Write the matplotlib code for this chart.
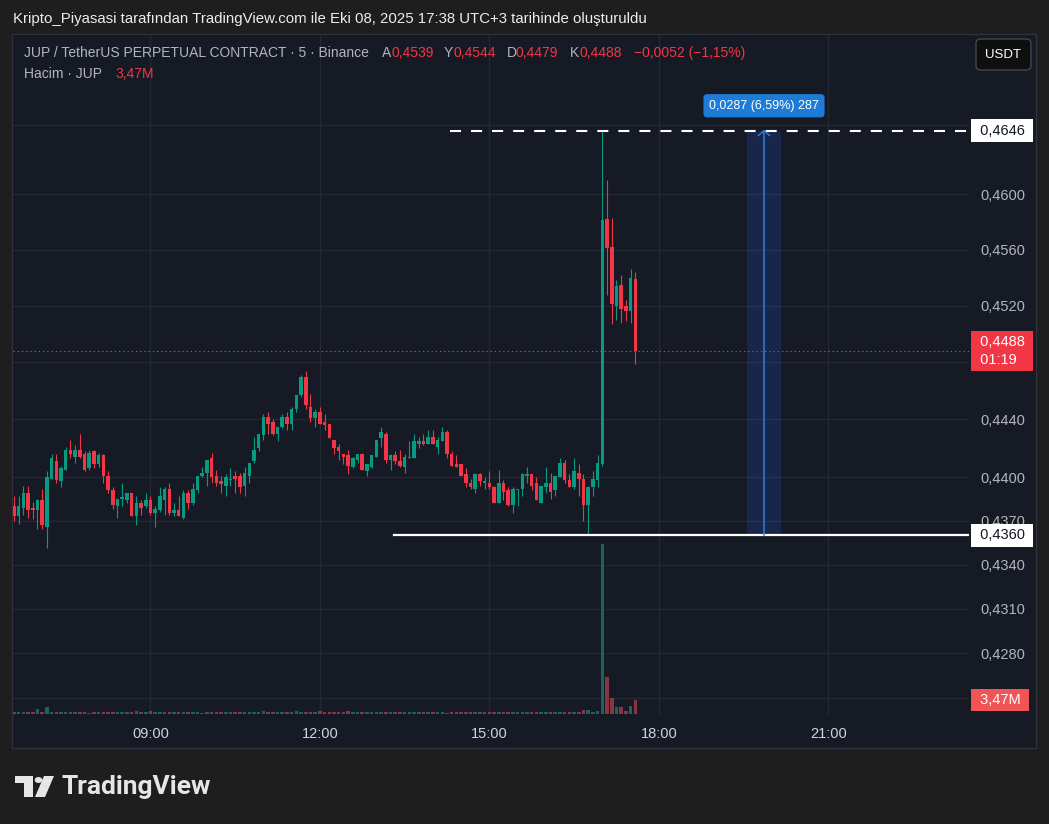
import matplotlib
matplotlib.use('Agg')
import matplotlib.pyplot as plt
import matplotlib.transforms as mtransforms
from matplotlib.patches import Rectangle, FancyBboxPatch, Polygon, Circle
from matplotlib.ticker import NullLocator

# ---- data (5 min candles, JUP/USDT perp) ----
start_time = '06:35'
bar_minutes = 5

opens = [0.4380, 0.4373, 0.4379, 0.4389, 0.4379, 0.4377, 0.4384, 0.4366, 0.4399, 0.4411,
         0.4397, 0.4405, 0.4419, 0.4414, 0.4419, 0.4416, 0.4406, 0.4418, 0.4409, 0.4415,
         0.4401, 0.4391, 0.4380, 0.4385, 0.4384, 0.4389, 0.4373, 0.4382, 0.4380, 0.4384,
         0.4375, 0.4377, 0.4384, 0.4392, 0.4375, 0.4377, 0.4372, 0.4389, 0.4382, 0.4391,
         0.4401, 0.4403, 0.4413, 0.4401, 0.4397, 0.4394, 0.4398, 0.4401, 0.4401, 0.4394,
         0.4401, 0.4411, 0.4420, 0.4429, 0.4442, 0.4438, 0.4430, 0.4435, 0.4442, 0.4437,
         0.4447, 0.4457, 0.4470, 0.4449, 0.4441, 0.4445, 0.4438, 0.4437, 0.4426, 0.4421,
         0.4416, 0.4415, 0.4407, 0.4412, 0.4416, 0.4404, 0.4407, 0.4414, 0.4427, 0.4430,
         0.4412, 0.4415, 0.4411, 0.4407, 0.4413, 0.4413, 0.4423, 0.4425, 0.4423, 0.4428,
         0.4421, 0.4425, 0.4431, 0.4416, 0.4409, 0.4409, 0.4402, 0.4396, 0.4392, 0.4402,
         0.4396, 0.4396, 0.4393, 0.4382, 0.4396, 0.4391, 0.4381, 0.4391, 0.4392, 0.4401,
         0.4402, 0.4396, 0.4382, 0.4393, 0.4396, 0.4391, 0.4400, 0.4410, 0.4398, 0.4393,
         0.4403, 0.4399, 0.4381, 0.4393, 0.4398, 0.4409, 0.4582, 0.4562, 0.4520, 0.4535,
         0.4520, 0.4516, 0.4539]
highs = [0.4387, 0.4387, 0.4394, 0.4394, 0.4383, 0.4385, 0.4392, 0.4404, 0.4416, 0.4416,
         0.4408, 0.4421, 0.4426, 0.4422, 0.4430, 0.4418, 0.4419, 0.4419, 0.4417, 0.4416,
         0.4404, 0.4393, 0.4385, 0.4396, 0.4389, 0.4389, 0.4387, 0.4384, 0.4389, 0.4387,
         0.4380, 0.4393, 0.4393, 0.4396, 0.4382, 0.4387, 0.4391, 0.4391, 0.4396, 0.4401,
         0.4407, 0.4412, 0.4417, 0.4405, 0.4401, 0.4402, 0.4406, 0.4404, 0.4403, 0.4407,
         0.4410, 0.4428, 0.4430, 0.4444, 0.4445, 0.4440, 0.4435, 0.4444, 0.4445, 0.4449,
         0.4457, 0.4471, 0.4474, 0.4458, 0.4447, 0.4449, 0.4444, 0.4437, 0.4426, 0.4423,
         0.4416, 0.4419, 0.4414, 0.4416, 0.4417, 0.4409, 0.4415, 0.4426, 0.4435, 0.4431,
         0.4416, 0.4418, 0.4419, 0.4416, 0.4425, 0.4430, 0.4428, 0.4430, 0.4433, 0.4433,
         0.4428, 0.4435, 0.4433, 0.4418, 0.4415, 0.4409, 0.4406, 0.4399, 0.4403, 0.4403,
         0.4400, 0.4404, 0.4394, 0.4405, 0.4398, 0.4393, 0.4393, 0.4392, 0.4403, 0.4407,
         0.4402, 0.4400, 0.4394, 0.4407, 0.4403, 0.4401, 0.4413, 0.4412, 0.4402, 0.4413,
         0.4409, 0.4402, 0.4394, 0.4404, 0.4415, 0.4646, 0.4610, 0.4583, 0.4538, 0.4542,
         0.4524, 0.4546, 0.4544]
lows = [0.4370, 0.4368, 0.4374, 0.4372, 0.4371, 0.4364, 0.4364, 0.4351, 0.4399, 0.4396,
        0.4393, 0.4405, 0.4413, 0.4410, 0.4413, 0.4404, 0.4405, 0.4406, 0.4407, 0.4396,
        0.4389, 0.4378, 0.4372, 0.4380, 0.4382, 0.4373, 0.4367, 0.4374, 0.4379, 0.4374,
        0.4366, 0.4376, 0.4374, 0.4374, 0.4373, 0.4373, 0.4371, 0.4378, 0.4381, 0.4389,
        0.4400, 0.4394, 0.4396, 0.4394, 0.4389, 0.4387, 0.4394, 0.4389, 0.4389, 0.4387,
        0.4396, 0.4410, 0.4418, 0.4426, 0.4430, 0.4429, 0.4425, 0.4434, 0.4433, 0.4433,
        0.4445, 0.4456, 0.4447, 0.4438, 0.4435, 0.4437, 0.4433, 0.4427, 0.4416, 0.4412,
        0.4409, 0.4402, 0.4406, 0.4410, 0.4405, 0.4401, 0.4406, 0.4414, 0.4421, 0.4410,
        0.4405, 0.4409, 0.4407, 0.4403, 0.4413, 0.4413, 0.4420, 0.4422, 0.4423, 0.4423,
        0.4416, 0.4425, 0.4413, 0.4408, 0.4407, 0.4401, 0.4393, 0.4392, 0.4389, 0.4394,
        0.4392, 0.4392, 0.4382, 0.4382, 0.4384, 0.4380, 0.4375, 0.4380, 0.4387, 0.4396,
        0.4391, 0.4384, 0.4382, 0.4389, 0.4385, 0.4387, 0.4400, 0.4396, 0.4393, 0.4392,
        0.4387, 0.4370, 0.4360, 0.4387, 0.4393, 0.4408, 0.4528, 0.4507, 0.4510, 0.4508,
        0.4509, 0.4508, 0.4479]
closes = [0.4373, 0.4380, 0.4389, 0.4377, 0.4377, 0.4384, 0.4367, 0.4400, 0.4413, 0.4398,
          0.4406, 0.4419, 0.4416, 0.4419, 0.4414, 0.4405, 0.4417, 0.4409, 0.4415, 0.4401,
          0.4391, 0.4381, 0.4385, 0.4386, 0.4389, 0.4373, 0.4382, 0.4379, 0.4384, 0.4375,
          0.4378, 0.4387, 0.4392, 0.4375, 0.4377, 0.4373, 0.4389, 0.4382, 0.4392, 0.4401,
          0.4403, 0.4412, 0.4400, 0.4396, 0.4395, 0.4400, 0.4399, 0.4399, 0.4393, 0.4403,
          0.4410, 0.4419, 0.4430, 0.4442, 0.4437, 0.4430, 0.4435, 0.4442, 0.4437, 0.4447,
          0.4457, 0.4470, 0.4450, 0.4441, 0.4445, 0.4437, 0.4436, 0.4427, 0.4420, 0.4418,
          0.4414, 0.4408, 0.4413, 0.4416, 0.4405, 0.4409, 0.4415, 0.4426, 0.4431, 0.4412,
          0.4415, 0.4411, 0.4408, 0.4414, 0.4414, 0.4425, 0.4425, 0.4423, 0.4428, 0.4423,
          0.4426, 0.4431, 0.4416, 0.4408, 0.4407, 0.4401, 0.4396, 0.4393, 0.4402, 0.4397,
          0.4397, 0.4393, 0.4382, 0.4396, 0.4390, 0.4381, 0.4392, 0.4392, 0.4402, 0.4402,
          0.4394, 0.4384, 0.4394, 0.4396, 0.4390, 0.4401, 0.4410, 0.4398, 0.4393, 0.4404,
          0.4399, 0.4381, 0.4393, 0.4399, 0.4410, 0.4581, 0.4561, 0.4521, 0.4534, 0.4518,
          0.4516, 0.4540, 0.4488]
# volume in millions JUP
volumes = [0.42, 0.45, 0.44, 0.40, 0.43, 1.15, 0.46, 1.65, 0.45, 0.42,
           0.44, 0.43, 0.41, 0.45, 0.43, 0.42, 0.15, 0.44, 0.46, 0.42,
           0.43, 0.45, 0.44, 0.41, 0.43, 0.45, 0.65, 0.42, 0.44, 0.65,
           0.44, 0.43, 0.45, 0.42, 0.44, 0.41, 0.45, 0.43, 0.44, 0.42,
           0.15, 0.44, 0.43, 0.45, 0.42, 0.44, 0.43, 0.41, 0.45, 0.44,
           0.42, 0.43, 0.45, 0.65, 0.44, 0.42, 0.43, 0.45, 0.41, 0.44,
           0.65, 0.43, 0.45, 0.42, 0.44, 0.65, 0.43, 0.41, 0.44, 0.45,
           0.43, 0.75, 0.44, 0.42, 0.45, 0.43, 0.44, 0.41, 0.45, 0.43,
           0.44, 0.42, 0.45, 0.43, 0.44, 0.41, 0.45, 0.43, 0.42, 0.44,
           0.45, 0.43, 0.15, 0.44, 0.42, 0.45, 0.43, 0.44, 0.41, 0.45,
           0.43, 0.44, 0.42, 0.45, 0.43, 0.44, 0.41, 0.45, 0.43, 0.44,
           0.42, 0.45, 0.43, 0.44, 0.41, 0.45, 0.43, 0.44, 0.42, 0.50,
           0.50, 1.00, 1.00, 0.50, 0.75, 42.2, 9.2, 4.0, 1.7, 1.7,
           0.75, 2.0, 3.47]

time_ticks = ['09:00', '12:00', '15:00', '18:00', '21:00']
price_ticks = [0.4250, 0.4280, 0.4310, 0.4340, 0.4370, 0.4400, 0.4440,
               0.4480, 0.4520, 0.4560, 0.4600, 0.4650]
hidden_ticks = [0.4250, 0.4480, 0.4650]   # covered by the value boxes
swing_low = 0.4360
swing_high = 0.4646
swing_low_from = 80.7      # bar index where the support line starts
swing_high_from = 92.6     # bar index where the dashed line starts
measure_bars = (155.7, 163.0)
measure_text = '0,0287 (6,59%) 287'
countdown = '01:19'

UP = '#089981'
DOWN = '#f23645'
BG = '#161a25'
OUTER = '#1e1e1e'
GRID = '#242833'
AXTXT = '#b2b5be'

W, H = 1049, 824


def fx(px):
    return px / W


def fy(py):
    return 1 - py / H


def fmt(p):
    return f'{p:.4f}'.replace('.', ',')


def to_min(t):
    h, m = t.split(':')
    return int(h) * 60 + int(m)


plt.rcParams['font.family'] = ['Liberation Sans', 'DejaVu Sans']

fig = plt.figure(figsize=(W / 100, H / 100), dpi=100, facecolor=OUTER)

# chart panel (behind the axes)
fig.patches.append(Rectangle((fx(12), fy(748)), fx(1024), 714 / H, transform=fig.transFigure,
                             facecolor=BG, edgecolor='#2e323c', lw=1, zorder=-5))

ax = fig.add_axes([fx(13), fy(714), 956 / W, 679 / H])
ax.set_facecolor(BG)
n = len(opens)
idx = list(range(n))
cols = [UP if c >= o else DOWN for o, c in zip(opens, closes)]

ax.set_yscale('log')
ax.vlines(idx, lows, highs, colors=cols, lw=0.8, zorder=3)
bottoms = [min(o, c) for o, c in zip(opens, closes)]
heights = [max(abs(c - o), 0.00008) for o, c in zip(opens, closes)]
ax.bar(idx, heights, bottom=bottoms, width=0.75, color=cols, lw=0, zorder=4)

ax.set_xlim(-0.2, 202.9)
ax.set_ylim(0.42393, 0.47164)

start = to_min(start_time)
xt = [(to_min(t) - start) / bar_minutes for t in time_ticks]
ax.set_xticks(xt)
ax.set_xticklabels(time_ticks)
ax.yaxis.tick_right()
ax.set_yticks(price_ticks)
ax.set_yticklabels(['' if p in hidden_ticks else fmt(p) for p in price_ticks])
ax.yaxis.set_minor_locator(NullLocator())
ax.tick_params(axis='x', length=0, pad=9, labelsize=10.5, labelcolor='#d1d4dc')
ax.tick_params(axis='y', length=0, pad=8, labelsize=10.5, labelcolor=AXTXT)
ax.grid(True, color=GRID, lw=1)
ax.set_axisbelow(True)
for s in ax.spines.values():
    s.set_visible(False)

# horizontal levels
ax.plot([swing_high_from, 202.9], [swing_high, swing_high], color='white', lw=1.5,
        dashes=(5.3, 4.8), zorder=5)
ax.plot([swing_low_from, 202.9], [swing_low, swing_low], color='white', lw=1.6, zorder=5)
ax.axhline(closes[-1], color=DOWN, lw=0.8, dashes=(1.2, 2.6), zorder=2)

# measure tool
m0, m1 = measure_bars
mc = (m0 + m1) / 2
ax.add_patch(Rectangle((m0, swing_low), m1 - m0, swing_high - swing_low,
                       facecolor='#2962ff', alpha=0.18, lw=0, zorder=2))
ax.plot([mc, mc], [swing_low, swing_high], color='#2f7fe0', lw=1.1, zorder=6)
ax.plot([mc - 1.2, mc, mc + 1.2], [swing_high * 0.99925, swing_high, swing_high * 0.99925],
        color='#2f7fe0', lw=1.0, zorder=6)
ax.annotate(measure_text, xy=(mc, swing_high), xytext=(0, 18), textcoords='offset points',
            ha='center', va='center', color='white', fontsize=9,
            bbox=dict(boxstyle='round,pad=0.45,rounding_size=0.3', fc='#1f7cd6', ec='none'),
            zorder=8, annotation_clip=False)

# price-scale labels
ytr = mtransforms.blended_transform_factory(ax.transAxes, ax.transData)


def plabel(y, text, fc, tc, axis=ax, tr=ytr):
    axis.text(1.0068, y, text, transform=tr, ha='left', va='center', color=tc,
              fontsize=10.5, linespacing=1.35, clip_on=False, zorder=20,
              bbox=dict(boxstyle='square,pad=0.3', fc=fc, ec='none'))


plabel(swing_high, ' ' + fmt(swing_high) + ' ', 'white', '#131722')
plabel(swing_low, ' ' + fmt(swing_low) + ' ', 'white', '#131722')
plabel(closes[-1], ' ' + fmt(closes[-1]) + ' \n ' + countdown, DOWN, 'white')

# volume overlay
vax = fig.add_axes([fx(13), fy(714), 956 / W, 679 / H], sharex=ax)
vax.patch.set_alpha(0)
vcols = ['#1c635d' if c == UP else '#873743' for c in cols]
vax.bar(idx, volumes, width=0.75, color=vcols, lw=0)
vax.set_ylim(0, 168.4)
vax.axis('off')
vtr = mtransforms.blended_transform_factory(vax.transAxes, vax.transData)
vax.text(1.0068, volumes[-1], ' ' + f'{volumes[-1]:.2f}'.replace('.', ',') + 'M ',
         transform=vtr, ha='left', va='center', color='white', fontsize=10.5,
         clip_on=False, zorder=20, bbox=dict(boxstyle='square,pad=0.3', fc='#f05454', ec='none'))

# header texts
fig.text(fx(13), fy(19), 'Kripto_Piyasasi tarafından TradingView.com ile Eki 08, 2025 17:38 UTC+3 '
         'tarihinde oluşturuldu', color='#ececec', fontsize=10.8, va='center')
fig.text(fx(24), fy(53), 'JUP / TetherUS PERPETUAL CONTRACT · 5 · Binance', color=AXTXT,
         fontsize=10, va='center')
ohlc = [('A', opens[-1], 382), ('Y', highs[-1], 444), ('D', lows[-1], 507), ('K', closes[-1], 570)]
for lab, v, px in ohlc:
    fig.text(fx(px), fy(53), lab, color=AXTXT, fontsize=10, va='center')
    fig.text(fx(px + 9), fy(53), fmt(v), color=DOWN, fontsize=10, va='center')
chg = closes[-1] - closes[-2]
fig.text(fx(634), fy(53), '−' + fmt(abs(chg)) + ' (−' + f'{abs(chg) / closes[-2] * 100:.2f}'.replace('.', ',') + '%)',
         color=DOWN, fontsize=10, va='center')
fig.text(fx(24), fy(74), 'Hacim · JUP', color=AXTXT, fontsize=10, va='center')
fig.text(fx(115), fy(74), f'{volumes[-1]:.2f}'.replace('.', ',') + 'M', color=DOWN,
         fontsize=10, va='center')

# currency button
fig.patches.append(FancyBboxPatch((fx(976), fy(70)), 55 / W, 31 / H, transform=fig.transFigure,
                                  boxstyle='round,pad=0,rounding_size=0.005',
                                  facecolor='#0f0f0f', edgecolor='#434651', lw=1, zorder=5))
fig.text(fx(1003.5), fy(54.5), 'USDT', color='white', fontsize=9.5, ha='center', va='center',
         zorder=6)

# TradingView logo
fig.patches.append(Polygon([(fx(15), fy(776)), (fx(33), fy(776)), (fx(33), fy(797)),
                            (fx(24), fy(797)), (fx(24), fy(783)), (fx(15), fy(783))],
                           closed=True, transform=fig.transFigure, facecolor='#e6e6e6', lw=0))
fig.patches.append(Circle((fx(38.5), fy(780)), 3.8 / W, transform=fig.transFigure,
                          facecolor='#e6e6e6', lw=0))
fig.patches.append(Polygon([(fx(44), fy(776)), (fx(54), fy(776)), (fx(45), fy(797)),
                            (fx(35), fy(797))], closed=True, transform=fig.transFigure,
                           facecolor='#e6e6e6', lw=0))
fig.text(fx(61), fy(787), 'TradingView', color='#e6e6e6', fontsize=19, fontweight='bold',
         va='center', family=['Roboto', 'DejaVu Sans'])

fig.savefig('out.png', dpi=100, facecolor=OUTER)
